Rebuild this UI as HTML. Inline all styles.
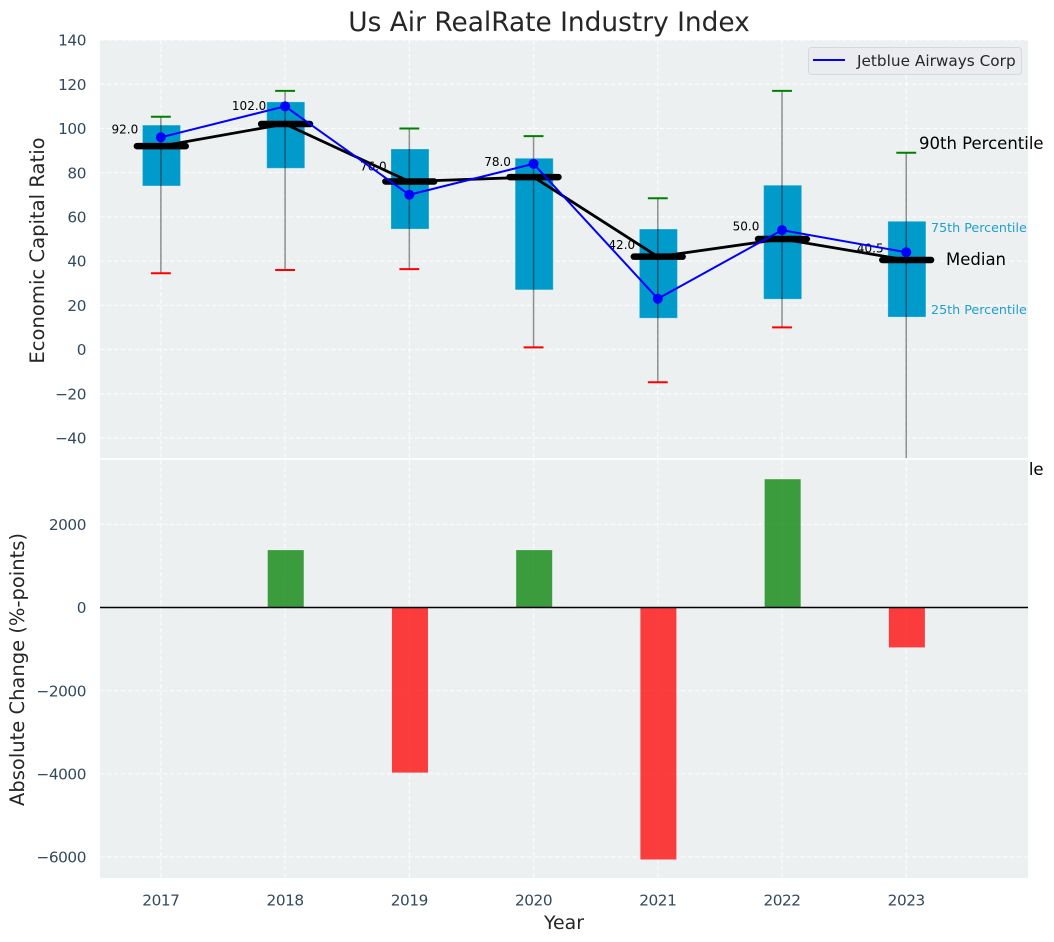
<!DOCTYPE html>
<html>
<head>
<meta charset="utf-8">
<title>Us Air RealRate Industry Index</title>
<style>
html,body{margin:0;padding:0;background:#fff;}
svg{display:block;font-family:"DejaVu Sans","Liberation Sans",sans-serif;}
</style>
</head>
<body>
<svg id="chart" xmlns="http://www.w3.org/2000/svg" width="1054" height="942" viewBox="0 0 1054 942">
  <defs>
    <clipPath id="top-clip"><rect x="100" y="40" width="928" height="418"/></clipPath>
    <clipPath id="bot-clip"><rect x="100" y="460" width="928" height="418"/></clipPath>
  </defs>
  <text x="549" y="31" text-anchor="middle" font-size="26.4" fill="#262626">Us Air RealRate Industry Index</text>
  <rect x="100" y="40" width="928" height="418" fill="#ecf0f1"/>
  <g id="top-grid" clip-path="url(#top-clip)"></g>
  <g id="top-boxes" clip-path="url(#top-clip)"></g>
  <g id="top-labels"></g>
  <g id="top-lines" clip-path="url(#top-clip)"></g>
  <text x="919" y="149" font-size="16.5" fill="#000">90th Percentile</text>
  <text x="931" y="232" font-size="12.7" fill="#1f9fcc">75th Percentile</text>
  <text x="946" y="265" font-size="16.5" fill="#000">Median</text>
  <text x="931" y="314" font-size="12.7" fill="#1f9fcc">25th Percentile</text>
  <text x="919" y="475" font-size="16.5" fill="#000">10th Percentile</text>
  <rect x="100" y="458" width="928" height="2" fill="#fff"/>
  <rect x="100" y="460" width="928" height="418" fill="#ecf0f1"/>
  <g id="bot-grid" clip-path="url(#bot-clip)"></g>
  <g id="bot-bars" clip-path="url(#bot-clip)"></g>
  <line x1="100" x2="1028" y1="607.5" y2="607.5" stroke="#000" stroke-width="1.4"/>
  <g id="ticks"></g>
  <text transform="translate(44,250.5) rotate(-90)" text-anchor="middle" font-size="19.6" fill="#262626">Economic Capital Ratio</text>
  <text transform="translate(24,669.5) rotate(-90)" text-anchor="middle" font-size="19.5" fill="#262626">Absolute Change (%-points)</text>
  <text x="564" y="929" text-anchor="middle" font-size="18.9" fill="#262626">Year</text>
  <g>
    <rect x="808.5" y="47.5" width="213" height="27" rx="3" fill="#eaecf0" stroke="#d6d9dc"/>
    <line x1="813" x2="845" y1="60" y2="60" stroke="#0000ff" stroke-width="2"/>
    <text x="857" y="66" font-size="15.3" fill="#262626">Jetblue Airways Corp</text>
  </g>
</svg>
<script>
const years = [2017, 2018, 2019, 2020, 2021, 2022, 2023];
const p90 = [105.3, 117, 100, 96.5, 68.4, 117, 89];
const p75 = [101.5, 112, 90.7, 86.5, 54.5, 74.3, 58];
const medians = [92, 102, 76, 78, 42, 50, 40.5];
const p25 = [74, 82, 54.5, 27, 14.2, 22.8, 14.7];
const p10 = [34.5, 36, 36.4, 1, -14.8, 10, -60];
const companyValues = [96, 110, 70, 84, 23, 54, 44];
const absoluteChange = [null, 1380, -3970, 1380, -6060, 3085, -960];
const topTicks = [140, 120, 100, 80, 60, 40, 20, 0, -20, -40];
const bottomTicks = [2000, 0, -2000, -4000, -6000];

const NS = 'http://www.w3.org/2000/svg';
const xDomain = [2016.51, 2023.98];
const topDomain = [-49.05, 140];
const botDomain = [-6505, 3547];
function xS(v){ return 100 + (v - xDomain[0]) / (xDomain[1] - xDomain[0]) * 928; }
function yTop(v){ return 458 - (v - topDomain[0]) / (topDomain[1] - topDomain[0]) * 418; }
function yBot(v){ return 878 - (v - botDomain[0]) / (botDomain[1] - botDomain[0]) * 418; }
function mk(tag, parentId, attrs, text){
  const el = document.createElementNS(NS, tag);
  for (const k in attrs) el.setAttribute(k, attrs[k]);
  if (text !== undefined) el.textContent = text;
  document.getElementById(parentId).appendChild(el);
  return el;
}
function fmt(v){ return String(v).replace('-', '\u2212'); }
const gridStyle = {stroke:'#ffffff', 'stroke-width':1.2, 'stroke-dasharray':'4.5 2.5', 'stroke-opacity':0.8};
const tickStyle = {'font-size':15.3, fill:'#34495e', 'letter-spacing':'-0.45px'};

topTicks.forEach(function(t){
  const g = mk('line', 'top-grid', Object.assign({x1:100, x2:1028, y1:yTop(t), y2:yTop(t)}, gridStyle));
  
  
  const l = mk('text', 'ticks', Object.assign({x:86, y:yTop(t)+5.6, 'text-anchor':'end'}, tickStyle), fmt(t));
  
  
});
bottomTicks.forEach(function(t){
  const g = mk('line', 'bot-grid', Object.assign({x1:100, x2:1028, y1:yBot(t), y2:yBot(t)}, gridStyle));
  
  
  const l = mk('text', 'ticks', Object.assign({x:86, y:yBot(t)+5.6, 'text-anchor':'end'}, tickStyle), fmt(t));
  
  
});

years.forEach(function(yr, i){
  const x = xS(yr);
  const g1 = mk('line', 'top-grid', Object.assign({x1:x, x2:x, y1:40, y2:458}, gridStyle));
  
  
  const g2 = mk('line', 'bot-grid', Object.assign({x1:x, x2:x, y1:460, y2:878}, gridStyle));
  
  
  const lab = mk('text', 'ticks', Object.assign({x:x, y:905.5, 'text-anchor':'middle'}, tickStyle), String(yr));
  
  

  const box = mk('rect', 'top-boxes', {x:xS(yr-0.148), width:xS(yr+0.158)-xS(yr-0.148), y:yTop(p75[i]), height:yTop(p25[i])-yTop(p75[i]), fill:'#009acb', stroke:'#ffffff', 'stroke-opacity':0.25, 'stroke-width':1});
  
  
  const wh = mk('line', 'top-boxes', {x1:x, x2:x, y1:yTop(p90[i]), y2:yTop(p10[i]), stroke:'#000', 'stroke-opacity':0.42, 'stroke-width':1.5});
  
  
  const capHi = mk('line', 'top-boxes', {x1:xS(yr-0.08), x2:xS(yr+0.08), y1:yTop(p90[i]), y2:yTop(p90[i]), stroke:'#008000', 'stroke-width':2});
  
  
  const capLo = mk('line', 'top-boxes', {x1:xS(yr-0.08), x2:xS(yr+0.08), y1:yTop(p10[i]), y2:yTop(p10[i]), stroke:'#ff0000', 'stroke-width':2});
  
  

  const vl = mk('text', 'top-labels', {x:x-36, y:yTop(medians[i]*1.048+3.3)+4.3, 'text-anchor':'middle', 'font-size':12, fill:'#000'}, medians[i].toFixed(1));
  
  

  if (absoluteChange[i] !== null) {
    const v = absoluteChange[i];
    const bar = mk('rect', 'bot-bars', {x:xS(yr-0.14), width:xS(yr+0.15)-xS(yr-0.14), y:Math.min(yBot(v), yBot(0)), height:Math.abs(yBot(v)-yBot(0)), fill: v >= 0 ? '#008000' : '#ff0000', 'fill-opacity':0.75});
    
    
  }
});

const medLine = mk('polyline', 'top-lines', {points:years.map(function(y,i){return xS(y)+','+yTop(medians[i]);}).join(' '), fill:'none', stroke:'#000', 'stroke-width':2.8});


years.forEach(function(yr, i){
  const m = mk('line', 'top-lines', {x1:xS(yr-0.193), x2:xS(yr+0.2), y1:yTop(medians[i]), y2:yTop(medians[i]), stroke:'#000', 'stroke-width':6.5, 'stroke-linecap':'round'});
  
  
});
const coLine = mk('polyline', 'top-lines', {points:years.map(function(y,i){return xS(y)+','+yTop(companyValues[i]);}).join(' '), fill:'none', stroke:'#0000ff', 'stroke-width':2});


years.forEach(function(yr, i){
  const d = mk('circle', 'top-lines', {cx:xS(yr), cy:yTop(companyValues[i]), r:5, fill:'#0000ff'});
  
  
});
</script>
</body>
</html>
